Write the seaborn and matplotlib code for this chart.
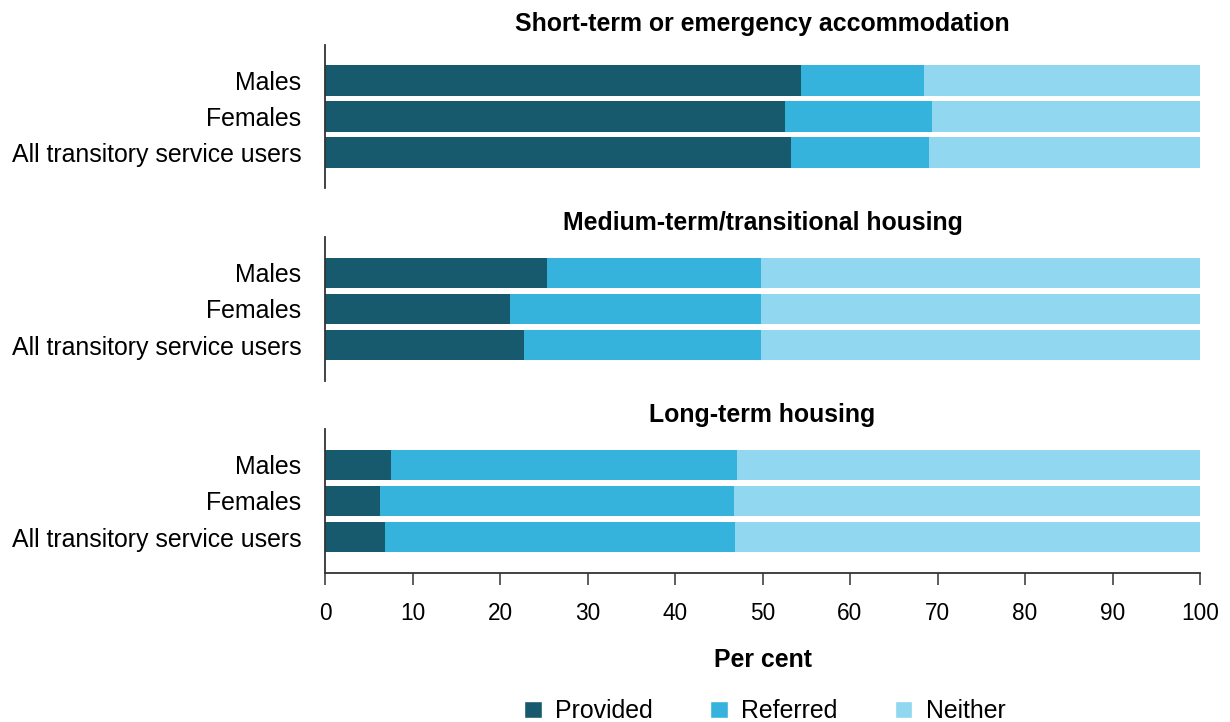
import pandas as pd
import matplotlib
matplotlib.use("Agg")
import matplotlib.pyplot as plt
from matplotlib.patches import Patch
import seaborn as sns

# Data (per cent)
groups = ["Males", "Females", "All transitory service users"]
panels = ["Short-term or emergency accommodation",
          "Medium-term/transitional housing",
          "Long-term housing"]

short_provided = [54.4, 52.6, 53.3]
short_referred = [14.1, 16.8, 15.7]
short_neither = [31.5, 30.6, 31.0]

medium_provided = [25.4, 21.1, 22.7]
medium_referred = [24.4, 28.7, 27.1]
medium_neither = [50.2, 50.2, 50.2]

long_provided = [7.5, 6.3, 6.8]
long_referred = [39.6, 40.4, 40.1]
long_neither = [52.9, 53.3, 53.1]

xticks = list(range(0, 101, 10))

colours = {"Provided": "#175a6e", "Referred": "#35b3dc", "Neither": "#90d7ef"}

sns.set_theme(style="white")
plt.rcParams["font.family"] = ["Liberation Sans", "DejaVu Sans"]
plt.rcParams["text.color"] = "#000000"
plt.rcParams["axes.labelcolor"] = "#000000"
FS = 17.9

fig = plt.figure(figsize=(12.3, 7.22), dpi=100)
left, width = 325 / 1230, 875 / 1230
boxes = [(45, 188), (237, 381), (429, 573)]
title_pads = [10, 5, 5]

series = [
    (short_provided, short_referred, short_neither),
    (medium_provided, medium_referred, medium_neither),
    (long_provided, long_referred, long_neither),
]

for i, (title, (prov, ref, nei), (top, bot)) in enumerate(zip(panels, series, boxes)):
    ax = fig.add_axes([left, 1 - bot / 722, width, (bot - top) / 722])
    df = pd.DataFrame({"group": groups, "Provided": prov,
                       "Referred": ref, "Neither": nei})
    # stacked bars: draw cumulative totals from the back
    df["c_ref"] = df["Provided"] + df["Referred"]
    df["c_all"] = df["c_ref"] + df["Neither"]
    for col, key in [("c_all", "Neither"), ("c_ref", "Referred"), ("Provided", "Provided")]:
        sns.barplot(data=df, x=col, y="group", orient="h", color=colours[key],
                    width=0.86, saturation=1, linewidth=0, ax=ax)
    ax.set_xlim(0, 100)
    ax.set_ylim(3, -1)
    ax.set_ylabel("")
    ax.set_xlabel("")
    ax.set_title(title, fontsize=FS, fontweight="bold", pad=title_pads[i], color="#000000")
    ax.tick_params(axis="y", length=0, pad=17, labelsize=FS, labelcolor="#000000")
    for s in ["top", "right"]:
        ax.spines[s].set_visible(False)
    ax.spines["left"].set_color("#333333")
    ax.spines["left"].set_linewidth(1.3)
    if i < 2:
        ax.spines["bottom"].set_visible(False)
        ax.set_xticks([])
    else:
        ax.spines["bottom"].set_color("#333333")
        ax.spines["bottom"].set_linewidth(1.3)
        ax.set_xticks(xticks)
        ax.tick_params(axis="x", bottom=True, length=8.6, width=1.1, color="#333333",
                       pad=12, labelsize=16.3, labelcolor="#000000")
        ax.set_xlabel("Per cent", fontsize=FS, fontweight="bold", labelpad=17)

handles = [Patch(facecolor=colours[k], label=k) for k in ["Provided", "Referred", "Neither"]]
fig.legend(handles=handles, loc="center", bbox_to_anchor=(765 / 1230, 1 - 711 / 722),
           ncol=3, frameon=False, fontsize=FS, handlelength=0.7, handleheight=0.7,
           handletextpad=0.55, columnspacing=2.3)

fig.savefig("out.png", dpi=100)
